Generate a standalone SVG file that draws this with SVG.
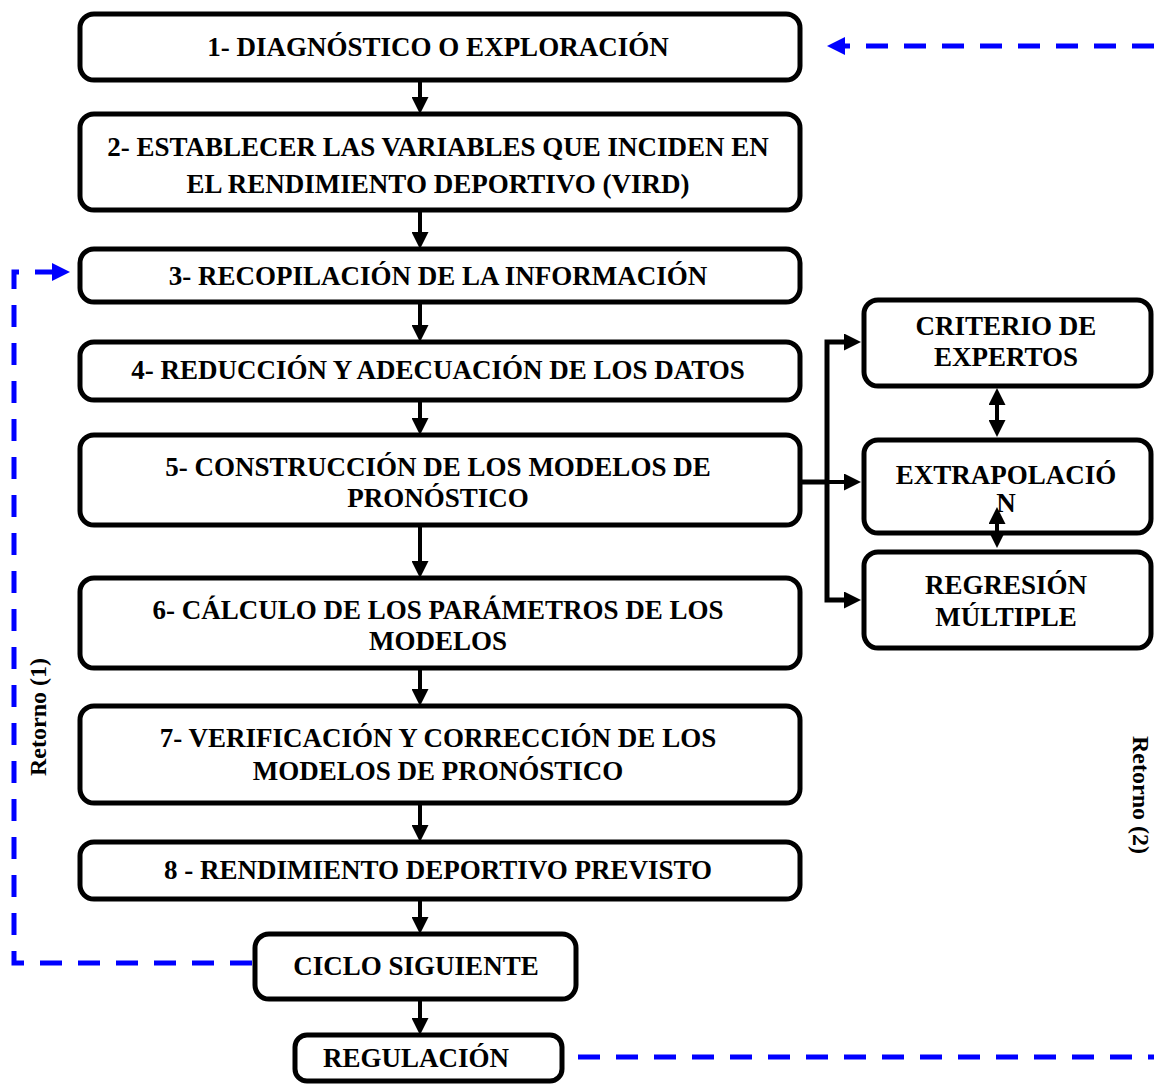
<svg xmlns="http://www.w3.org/2000/svg" width="1154" height="1085" viewBox="0 0 1154 1085">
<defs>
<marker id="ab" markerUnits="userSpaceOnUse" markerWidth="17" markerHeight="17" viewBox="0 0 17 17" refX="0" refY="8.5" orient="auto"><path d="M0,0 L17,8.5 L0,17 z" fill="#000"/></marker>
<marker id="abs" markerUnits="userSpaceOnUse" markerWidth="17" markerHeight="17" viewBox="0 0 17 17" refX="0" refY="8.5" orient="auto-start-reverse"><path d="M0,0 L17,8.5 L0,17 z" fill="#000"/></marker>
<marker id="au" markerUnits="userSpaceOnUse" markerWidth="18" markerHeight="18" viewBox="0 0 18 18" refX="0" refY="9" orient="auto"><path d="M0,0 L18,9 L0,18 z" fill="#0000ff"/></marker>
</defs>
<style>
.box{fill:#fff;stroke:#000;stroke-width:5}
.t{font-family:"Liberation Serif","Times New Roman",serif;font-weight:bold;font-size:27px;fill:#000;text-anchor:middle}
.r{font-family:"Liberation Serif","Times New Roman",serif;font-weight:bold;font-size:24px;fill:#000;text-anchor:middle}
.c{fill:none;stroke:#000;stroke-width:4}
.d{fill:none;stroke:#0000ff;stroke-width:5;stroke-dasharray:22 16}
</style>
<rect width="1154" height="1085" fill="#fff"/>
<g id="n1"><rect class="box" x="80" y="14" width="720" height="66" rx="14"/><text class="t" x="438" y="56">1- DIAGNÓSTICO O EXPLORACIÓN</text></g>
<g id="n2"><rect class="box" x="80" y="114" width="720" height="96" rx="14"/><text class="t" x="438" y="156">2- ESTABLECER LAS VARIABLES QUE INCIDEN EN</text><text class="t" x="438" y="193">EL RENDIMIENTO DEPORTIVO (VIRD)</text></g>
<g id="n3"><rect class="box" x="80" y="249" width="720" height="53" rx="14"/><text class="t" x="438" y="285">3- RECOPILACIÓN DE LA INFORMACIÓN</text></g>
<g id="n4"><rect class="box" x="80" y="342" width="720" height="58" rx="14"/><text class="t" x="438" y="379">4- REDUCCIÓN Y ADECUACIÓN DE LOS DATOS</text></g>
<g id="n5"><rect class="box" x="80" y="435" width="720" height="90" rx="14"/><text class="t" x="438" y="476">5- CONSTRUCCIÓN DE LOS MODELOS DE</text><text class="t" x="438" y="507">PRONÓSTICO</text></g>
<g id="n6"><rect class="box" x="80" y="578" width="720" height="90" rx="14"/><text class="t" x="438" y="619">6- CÁLCULO DE LOS PARÁMETROS DE LOS</text><text class="t" x="438" y="650">MODELOS</text></g>
<g id="n7"><rect class="box" x="80" y="706" width="720" height="97" rx="14"/><text class="t" x="438" y="747">7- VERIFICACIÓN Y CORRECCIÓN DE LOS</text><text class="t" x="438" y="780">MODELOS DE PRONÓSTICO</text></g>
<g id="n8"><rect class="box" x="80" y="842" width="720" height="57" rx="14"/><text class="t" x="438" y="879">8 - RENDIMIENTO DEPORTIVO PREVISTO</text></g>
<g id="n9"><rect class="box" x="255" y="934" width="321" height="65" rx="14"/><text class="t" x="416" y="975">CICLO SIGUIENTE</text></g>
<g id="n10"><rect class="box" x="295" y="1035" width="267" height="46" rx="12"/><text class="t" x="416" y="1067">REGULACIÓN</text></g>
<g id="n11"><rect class="box" x="864" y="300" width="287" height="86" rx="14"/><text class="t" x="1006" y="335">CRITERIO DE</text><text class="t" x="1006" y="366">EXPERTOS</text></g>
<g id="n12"><rect class="box" x="864" y="440" width="287" height="93" rx="14"/><text class="t" x="1006" y="484">EXTRAPOLACIÓ</text><text class="t" x="1006" y="512">N</text></g>
<g id="n13"><rect class="box" x="864" y="552" width="287" height="96" rx="14"/><text class="t" x="1006" y="594">REGRESIÓN</text><text class="t" x="1006" y="626">MÚLTIPLE</text></g>
<g id="connectors">
<path class="c" d="M420,82 V97" marker-end="url(#ab)"/>
<path class="c" d="M420,212 V232" marker-end="url(#ab)"/>
<path class="c" d="M420,304 V325" marker-end="url(#ab)"/>
<path class="c" d="M420,402 V418" marker-end="url(#ab)"/>
<path class="c" d="M420,527 V561" marker-end="url(#ab)"/>
<path class="c" d="M420,670 V689" marker-end="url(#ab)"/>
<path class="c" d="M420,805 V825" marker-end="url(#ab)"/>
<path class="c" d="M420,901 V917" marker-end="url(#ab)"/>
<path class="c" d="M420,1001 V1018" marker-end="url(#ab)"/>
<path class="c" style="stroke-width:5" d="M802,482 H827"/>
<path class="c" style="stroke-width:5" d="M845,342 H827 V600 H845"/>
<path class="c" d="M827,342 H844" marker-end="url(#ab)"/>
<path class="c" d="M827,482 H844" marker-end="url(#ab)"/>
<path class="c" d="M827,600 H844" marker-end="url(#ab)"/>
<path class="c" d="M997,405 V420" marker-start="url(#abs)" marker-end="url(#ab)"/>
<path class="c" d="M997,524 V531" marker-start="url(#abs)" marker-end="url(#ab)"/>
<path class="d" d="M1154,46 H845" marker-end="url(#au)"/>
<path class="d" d="M252,963 H14 V272 H52" marker-end="url(#au)"/>
<path class="d" d="M578,1057 H1154"/>
</g>
<g id="labels">
<text class="r" transform="translate(46,717) rotate(-90)">Retorno (1)</text>
<text class="r" transform="translate(1133,795) rotate(90)">Retorno (2)</text>
</g>
</svg>
